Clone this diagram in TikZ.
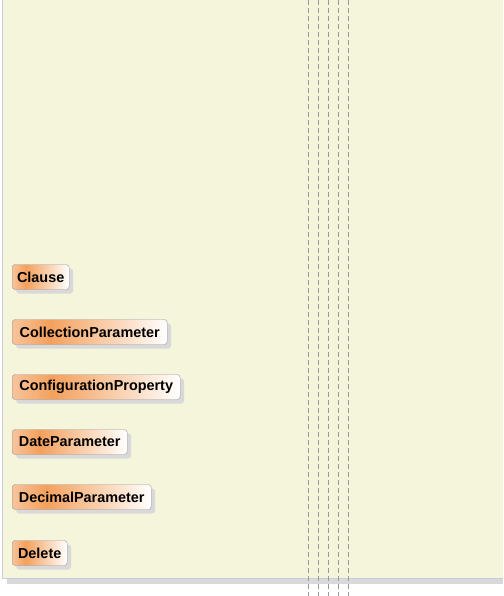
\documentclass[tikz,border=0pt]{standalone}
\usepackage{fontspec}
\setmainfont{Liberation Sans}
\usetikzlibrary{%
	calc,%
	shadows
}
\definecolor{panelbg}{HTML}{F5F5DC}
\definecolor{panelline}{HTML}{C8CCDC}
\definecolor{boxorange}{HTML}{F4A05C}
\definecolor{boxlight}{HTML}{F8C49C}
\pgfdeclarehorizontalshading{classfill}{100bp}{color(0bp)=(boxlight); color(25bp)=(boxlight); color(37bp)=(boxorange); color(75bp)=(white); color(100bp)=(white)}
\tikzset{
	classbox/.style={draw=black!40, rounded corners=3pt, shading=classfill, anchor=west,
		minimum height=25pt, inner xsep=0pt, font=\fontsize{14.4}{16}\selectfont\bfseries,
		drop shadow={shadow xshift=4pt, shadow yshift=-4pt, fill=black!15, opacity=1}},
	lifeline/.style={draw=black!40, dash pattern=on 5pt off 3pt}
}

\begin{document}
\begin{tikzpicture}[x=1pt, y=-1pt]
			\useasboundingbox (0,0) rectangle (503,596);
			
			% panel
			\fill[black!15] (7,578) rectangle (503,584);
			\fill[panelbg] (2,0) rectangle (503,578);
			\draw[panelline] (2.5,0) -- (2.5,578.5) -- (503,578.5);
			
			% dashed lines
			\foreach \x in {308,318,...,348}
				\draw[lifeline] (\x,0) -- (\x,596);
			
			% classes
			\foreach \n/\w/\y/\t in {clause/57/277/Clause, collparam/155/332/CollectionParameter, confprop/168/387/ConfigurationProperty, dateparam/115/442/DateParameter, decparam/139/497/DecimalParameter, delete/55/553/Delete}
				\node[classbox, minimum width=\w pt] (\n) at (12,\y) {\t};
		\end{tikzpicture}
\end{document}
